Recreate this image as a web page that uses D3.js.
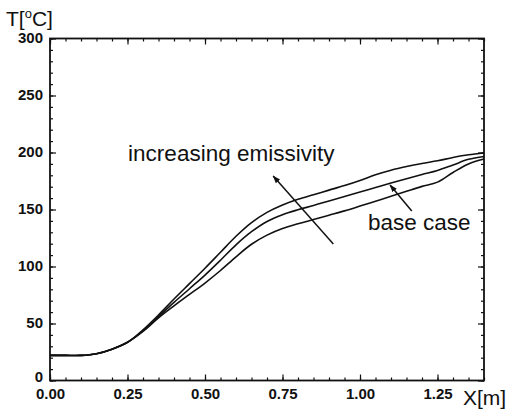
<!DOCTYPE html>
<html>
<head>
<meta charset="utf-8">
<script src="https://cdn.jsdelivr.net/npm/d3@7"></script>
<style>
body { margin: 0; background: #fff; }
text { font-family: "Liberation Sans", Arial, sans-serif; fill: #111; }
</style>
</head>
<body>
<div id="chart"></div>
<script>
// distance along the strip [m]
var xs = [0, 0.05, 0.10, 0.15, 0.20, 0.25, 0.30, 0.35, 0.40, 0.45, 0.50, 0.55, 0.60, 0.65, 0.70,
          0.75, 0.80, 0.85, 0.90, 0.95, 1.00, 1.05, 1.10, 1.15, 1.20, 1.25, 1.30, 1.35, 1.40];
// temperature [C], higher emissivity / base case / lower emissivity
var tHigh = [22, 22, 22, 23.5, 27.5, 33.5, 44.5, 57.5, 71.5, 85, 98.5, 112.5, 126.5, 138.5, 147.5,
             154, 159, 163, 167, 171, 175.5, 180.5, 184.5, 187.7, 190.4, 192.7, 195.6, 198, 199.6];
var tBase = [22, 22, 22, 23.5, 27.5, 33.5, 43.5, 56, 68.5, 80.5, 92.5, 105.5, 119, 130.5, 139.5,
             145.5, 149.8, 153.5, 157.5, 161.4, 165.4, 169.3, 173.2, 177, 180.7, 184.2, 189, 194, 196.5];
var tLow  = [22, 22, 22, 23.5, 27.5, 33.5, 43, 55, 65.5, 75.5, 85.5, 96.5, 108.5, 119.5, 127.5,
             133.3, 137.5, 141.2, 145, 148.8, 153, 157.3, 161.6, 166, 170.3, 174, 182.5, 190, 194.3];

var xTicks = [0, 0.25, 0.5, 0.75, 1.0, 1.25];
var yTicks = [0, 50, 100, 150, 200, 250, 300];

var width = 508, height = 411;
var margin = {top: 38.5, right: 24, bottom: 30.5, left: 50};

var svg = d3.select("#chart").append("svg")
    .attr("width", width)
    .attr("height", height);

var x = d3.scaleLinear().domain([0, 1.4]).range([margin.left, width - margin.right]);
var y = d3.scaleLinear().domain([0, 300]).range([height - margin.bottom, margin.top]);

svg.append("defs").append("marker")
    .attr("id", "head")
    .attr("viewBox", "0 0 10 10")
    .attr("refX", 9).attr("refY", 5)
    .attr("markerWidth", 8).attr("markerHeight", 8)
    .attr("markerUnits", "userSpaceOnUse")
    .attr("orient", "auto")
  .append("path")
    .attr("d", "M0,1.5L10,5L0,8.5Z")
    .attr("fill", "#111");

// minor ticks all round, pointing inwards
var minorX = d3.range(0, 1.4001, 0.05);
var minorY = d3.range(0, 300.1, 10);
function styleAxis(g) {
    g.select(".domain").remove();
    g.selectAll("line").attr("stroke", "#111").attr("stroke-width", 1.2);
}
svg.append("g").attr("transform", "translate(0," + y(0) + ")")
    .call(d3.axisBottom(x).tickValues(minorX).tickSize(-3).tickFormat("")).call(styleAxis);
svg.append("g").attr("transform", "translate(0," + y(300) + ")")
    .call(d3.axisTop(x).tickValues(minorX).tickSize(-3).tickFormat("")).call(styleAxis);
svg.append("g").attr("transform", "translate(" + x(0) + ",0)")
    .call(d3.axisLeft(y).tickValues(minorY).tickSize(-3).tickFormat("")).call(styleAxis);
svg.append("g").attr("transform", "translate(" + x(1.4) + ",0)")
    .call(d3.axisRight(y).tickValues(minorY).tickSize(-3).tickFormat("")).call(styleAxis);

// major ticks with labels
var xAxis = svg.append("g").attr("transform", "translate(0," + y(0) + ")")
    .call(d3.axisBottom(x).tickValues(xTicks).tickSize(-6).tickPadding(13).tickFormat(d3.format(".2f")))
    .call(styleAxis);
xAxis.selectAll("text").attr("font-size", 15).attr("font-weight", "bold").attr("dy", "0.35em");
svg.append("g").attr("transform", "translate(0," + y(300) + ")")
    .call(d3.axisTop(x).tickValues(xTicks).tickSize(-6).tickFormat("")).call(styleAxis);
var yAxis = svg.append("g").attr("transform", "translate(" + x(0) + ",0)")
    .call(d3.axisLeft(y).tickValues(yTicks).tickSize(-6).tickPadding(7).tickFormat(d3.format("d")))
    .call(styleAxis);
yAxis.selectAll("text").attr("font-size", 15).attr("font-weight", "bold")
    .attr("dy", function(d) { return d === 0 ? "0.07em" : "0.25em"; });
svg.append("g").attr("transform", "translate(" + x(1.4) + ",0)")
    .call(d3.axisRight(y).tickValues(yTicks).tickSize(-6).tickFormat("")).call(styleAxis);

// frame
svg.append("rect")
    .attr("x", x(0)).attr("y", y(300))
    .attr("width", x(1.4) - x(0)).attr("height", y(0) - y(300))
    .attr("fill", "none").attr("stroke", "#111").attr("stroke-width", 1.8);

var line = d3.line()
    .x(function(d, i) { return x(xs[i]); })
    .y(function(d) { return y(d); })
    .curve(d3.curveCatmullRom.alpha(0.5));

svg.selectAll("path.curve")
    .data([tHigh, tBase, tLow])
    .enter().append("path")
    .attr("class", "curve")
    .attr("d", line)
    .attr("fill", "none")
    .attr("stroke", "#111")
    .attr("stroke-width", 1.6);

// annotations
var arrows = [
    {from: [0.914, 119.7], to: [0.72, 179.4]},
    {from: [1.167, 148.7], to: [1.097, 171.5]}
];
svg.selectAll("line.arrow")
    .data(arrows)
    .enter().append("line")
    .attr("class", "arrow")
    .attr("x1", function(d) { return x(d.from[0]); })
    .attr("y1", function(d) { return y(d.from[1]); })
    .attr("x2", function(d) { return x(d.to[0]); })
    .attr("y2", function(d) { return y(d.to[1]); })
    .attr("stroke", "#111")
    .attr("stroke-width", 1.5)
    .attr("marker-end", "url(#head)");

svg.append("text").attr("x", x(0.252)).attr("y", y(192.5))
    .attr("font-size", 22.5).text("increasing emissivity");
svg.append("text").attr("x", x(1.026)).attr("y", y(132))
    .attr("font-size", 22.5).text("base case");

// axis titles
var ty = svg.append("text").attr("x", 6).attr("y", 26).attr("font-size", 21);
ty.append("tspan").text("T[");
ty.append("tspan").attr("font-size", 13).attr("dy", -8).text("o");
ty.append("tspan").attr("dy", 8).text("C]");
svg.append("text").attr("x", 463).attr("y", 405).attr("font-size", 21).text("X[m]");
</script>
</body>
</html>
